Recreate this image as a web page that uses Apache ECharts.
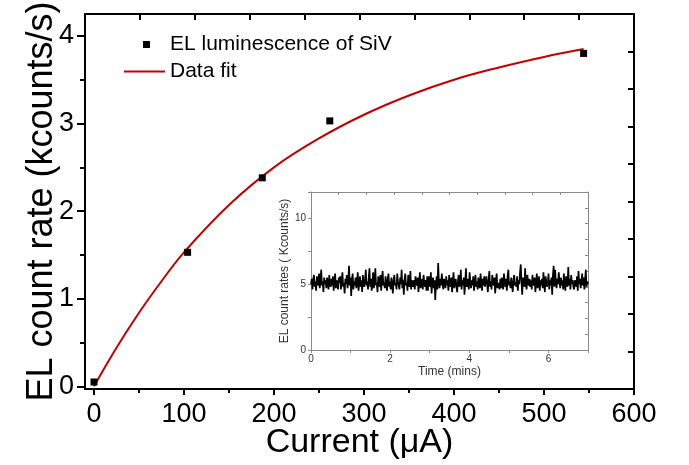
<!DOCTYPE html>
<html>
<head>
<meta charset="utf-8">
<script src="https://cdn.jsdelivr.net/npm/echarts@6/dist/echarts.min.js"></script>
<style>html,body{margin:0;padding:0;background:#fff}#c{width:689px;height:465px}</style>
</head>
<body>
<div id="c"></div>
<script>
// Main plot data
const currentUA = [0, 104, 187, 262, 544];
const elRate = [0.05, 1.53, 2.38, 3.03, 3.80];
// Fit curve
const fitX = [0, 25, 50, 75, 100, 150, 200, 250, 300, 350, 400, 450, 500, 544];
const fitY = [0, 0.44, 0.84, 1.2, 1.53, 2.07, 2.5, 2.83, 3.1, 3.32, 3.5, 3.64, 3.76, 3.85];
const xTicks = [0, 100, 200, 300, 400, 500, 600];
const xMinor = [50, 150, 250, 350, 450, 550];
const yTicks = [0, 1, 2, 3, 4];
const yMinor = [0.5, 1.5, 2.5, 3.5];
// Inset trace (kcounts/s) over 0..7 min
const insetSpanMin = 7;
const insetRate = [
5.0,5.4,4.6,5.3,5.7,4.8,5.2,4.5,5.6,5.1,4.9,5.8,4.7,5.3,6.1,4.9,5.2,4.4,5.5,5.0,
5.3,4.7,5.5,5.1,4.6,5.7,5.0,4.8,5.4,4.9,5.6,4.5,5.2,5.8,4.7,5.3,5.0,4.6,5.5,5.1,
5.6,4.6,5.3,5.9,4.8,5.1,4.3,5.4,5.0,5.7,4.7,5.2,6.4,4.9,5.5,4.1,5.3,5.8,4.6,5.2,
4.9,5.5,4.7,5.2,5.9,4.5,5.1,5.6,4.8,5.3,4.4,5.7,5.0,4.8,5.4,6.1,4.9,5.2,4.6,5.5,
6.2,4.8,5.4,4.5,5.0,5.9,4.7,5.3,6.2,4.9,5.1,4.4,5.6,5.2,4.8,5.7,4.5,5.3,6.0,4.9,
5.1,4.7,5.6,5.0,4.5,5.4,5.8,4.8,5.2,4.6,5.5,5.0,4.3,5.3,5.7,4.9,5.1,4.6,5.8,5.2,
5.2,4.6,5.5,5.0,6.1,4.7,5.3,4.2,5.4,5.8,4.9,5.1,4.5,5.7,5.2,4.8,6.0,4.6,5.3,5.0,
4.8,5.3,4.6,5.6,5.1,4.9,5.5,4.4,5.2,5.9,4.7,5.0,5.4,4.6,5.7,5.1,4.8,5.3,4.5,5.6,
4.5,5.6,5.1,4.8,5.9,4.3,5.2,5.5,4.7,5.3,3.8,5.0,5.6,4.6,6.6,5.1,4.7,5.4,4.9,5.8,
5.0,4.6,5.4,5.1,4.7,5.6,4.9,5.3,4.5,5.7,5.0,4.8,5.5,4.4,5.2,5.9,4.7,5.1,5.4,4.8,
4.4,5.2,5.7,4.8,5.0,6.1,4.6,5.3,4.9,5.5,4.2,5.1,6.2,4.8,5.4,5.0,4.6,5.9,5.2,4.7,
5.3,4.9,5.6,4.5,5.1,5.7,4.8,5.2,4.6,5.5,5.0,4.7,5.8,5.1,4.5,5.4,4.9,5.6,4.8,5.2,
5.6,5.0,4.4,5.3,6.0,4.8,5.2,4.6,5.7,5.1,4.9,5.5,4.3,5.2,5.8,4.7,5.1,5.0,4.6,5.4,
4.7,5.5,5.0,4.6,5.8,5.2,4.8,5.4,4.5,5.6,6.1,4.9,5.2,4.7,5.5,5.0,4.4,5.3,5.7,4.9,
5.1,4.8,5.6,4.5,5.3,5.0,5.9,6.5,5.2,4.2,5.5,5.1,4.8,6.2,5.0,4.6,5.7,5.2,4.9,5.4,
4.8,5.3,4.6,5.7,5.1,4.9,5.5,4.4,5.2,5.8,4.7,5.0,5.6,4.5,5.3,4.9,5.4,4.7,5.9,5.1,
4.4,5.6,5.2,4.8,5.1,5.8,4.6,5.3,4.9,5.5,4.2,5.7,6.4,4.8,6.1,5.2,4.7,5.4,5.0,5.9,
5.2,4.7,5.5,4.9,5.3,4.6,5.8,5.0,4.5,5.6,5.1,4.8,6.3,4.9,5.4,4.6,5.7,5.0,5.3,4.8,
4.6,5.3,5.1,4.8,5.6,4.5,6.0,5.0,5.4,4.7,5.2,5.8,4.9,5.5,4.6,5.3,6.1,4.8,5.2,5.0
];
const insetXTicks = [0, 2, 4, 6];
const insetYTicks = [0, 5, 10];

const FONT = 'Liberation Sans, Arial, sans-serif';
const insetPts = insetRate.map((v, i) => [i * insetSpanMin / (insetRate.length - 1), v]);

const chart = echarts.init(document.getElementById('c'), null, {renderer: 'canvas'});
const blackLine = {show: true, onZero: false, lineStyle: {color: '#000', width: 2}};
const grayLine = {show: true, onZero: false, lineStyle: {color: '#8a8a8a', width: 1}};
const hiddenLine = {show: false, onZero: false};
const noSplit = {show: false};

chart.setOption({
  animation: false,
  backgroundColor: '#fff',
  grid: [
    {left: 85, top: 14, width: 549, height: 375, containLabel: false, outerBoundsMode: 'none'},
    {left: 311, top: 192, width: 277, height: 158, containLabel: false, outerBoundsMode: 'none',
     show: true, backgroundColor: '#fff', borderWidth: 0}
  ],
  legend: [
    {data: [{name: 'EL luminescence of SiV', icon: 'rect'}], left: 143, top: 34, itemWidth: 7, itemHeight: 7,
     textStyle: {fontFamily: FONT, fontSize: 21, color: '#000', padding: [0, 0, 0, 15]}, padding: 0},
    {data: [{name: 'Data fit', icon: 'rect'}], left: 124, top: 61, itemWidth: 41, itemHeight: 2,
     itemStyle: {color: '#c00000'},
     textStyle: {fontFamily: FONT, fontSize: 21, color: '#000'}, padding: 0}
  ],
  xAxis: [
    {gridIndex: 0, type: 'value', min: -10, max: 600, position: 'bottom',
     axisLine: blackLine, splitLine: noSplit,
     axisTick: {show: true, inside: false, length: 6, customValues: xTicks, lineStyle: {color: '#000', width: 2}},
     axisLabel: {customValues: xTicks, fontFamily: FONT, fontSize: 27, color: '#000', margin: 12},
     name: 'Current (\u03bcA)', nameLocation: 'middle', nameGap: 37, nameMoveOverlap: false,
     nameTextStyle: {fontFamily: FONT, fontSize: 34, color: '#000'}},
    {gridIndex: 0, type: 'value', min: 0, max: 10, interval: 1, position: 'top', axisLine: blackLine, splitLine: noSplit,
     axisTick: {show: true, inside: true, length: 6, lineStyle: {color: '#000', width: 2}}, axisLabel: {show: false}},
    {gridIndex: 0, type: 'value', min: -10, max: 600, position: 'bottom', offset: 0, axisLine: hiddenLine, splitLine: noSplit,
     axisTick: {show: true, inside: false, length: 4, customValues: xMinor, lineStyle: {color: '#000', width: 2}},
     axisLabel: {show: false}},
    {gridIndex: 1, type: 'value', min: 0, max: 7, interval: 1, position: 'bottom', axisLine: grayLine, splitLine: noSplit,
     axisTick: {show: true, inside: false, length: 3, lineStyle: {color: '#8a8a8a'}},
     axisLabel: {customValues: insetXTicks, fontFamily: FONT, fontSize: 10, color: '#333', margin: 4},
     name: 'Time (mins)', nameLocation: 'middle', nameGap: 16,
     nameTextStyle: {fontFamily: FONT, fontSize: 12, color: '#333'}},
    {gridIndex: 1, type: 'value', min: 0, max: 7, interval: 0.7, position: 'top', axisLine: grayLine, splitLine: noSplit,
     axisTick: {show: true, inside: true, length: 3, lineStyle: {color: '#8a8a8a'}}, axisLabel: {show: false}}
  ],
  yAxis: [
    {gridIndex: 0, type: 'value', min: -0.03, max: 4.25, position: 'left',
     axisLine: blackLine, splitLine: noSplit,
     axisTick: {show: true, inside: false, length: 8, customValues: yTicks, lineStyle: {color: '#000', width: 2}},
     axisLabel: {customValues: yTicks, fontFamily: FONT, fontSize: 27, color: '#000', margin: 11},
     name: 'EL count rate (kcounts/s)', nameLocation: 'middle', nameGap: 25, nameMoveOverlap: false,
     nameTextStyle: {fontFamily: FONT, fontSize: 36, color: '#000'}},
    {gridIndex: 0, type: 'value', min: 0, max: 10, interval: 1, position: 'right', axisLine: blackLine, splitLine: noSplit,
     axisTick: {show: true, inside: true, length: 6, lineStyle: {color: '#000', width: 2}}, axisLabel: {show: false}},
    {gridIndex: 0, type: 'value', min: -0.03, max: 4.25, position: 'left', offset: 0, axisLine: hiddenLine, splitLine: noSplit,
     axisTick: {show: true, inside: false, length: 5, customValues: yMinor, lineStyle: {color: '#000', width: 2}},
     axisLabel: {show: false}},
    {gridIndex: 1, type: 'value', min: 0, max: 12, interval: 2.5, position: 'left', axisLine: grayLine, splitLine: noSplit,
     axisTick: {show: true, inside: false, length: 3, lineStyle: {color: '#8a8a8a'}},
     axisLabel: {customValues: insetYTicks, fontFamily: FONT, fontSize: 10, color: '#333', margin: 5},
     name: 'EL count rates ( Kcounts/s)', nameLocation: 'middle', nameGap: 19,
     nameTextStyle: {fontFamily: FONT, fontSize: 12, color: '#333'}},
    {gridIndex: 1, type: 'value', min: 0, max: 12, interval: 1.2, position: 'right', axisLine: grayLine, splitLine: noSplit,
     axisTick: {show: true, inside: true, length: 3, lineStyle: {color: '#8a8a8a'}}, axisLabel: {show: false}}
  ],
  series: [
    {name: 'Data fit', type: 'line', xAxisIndex: 0, yAxisIndex: 0, smooth: 0.4, symbol: 'none',
     data: fitX.map((x, i) => [x, fitY[i]]), lineStyle: {color: '#c00000', width: 2}, itemStyle: {color: '#c00000'}, z: 3},
    {name: 'EL luminescence of SiV', type: 'scatter', xAxisIndex: 0, yAxisIndex: 0, symbol: 'rect', symbolSize: 7,
     data: currentUA.map((x, i) => [x, elRate[i]]), itemStyle: {color: '#000', opacity: 1}, z: 4},
    {name: 'inset', type: 'line', xAxisIndex: 3, yAxisIndex: 3, symbol: 'none', data: insetPts,
     lineStyle: {color: '#000', width: 1.7}}
  ]
});
</script>
</body>
</html>
